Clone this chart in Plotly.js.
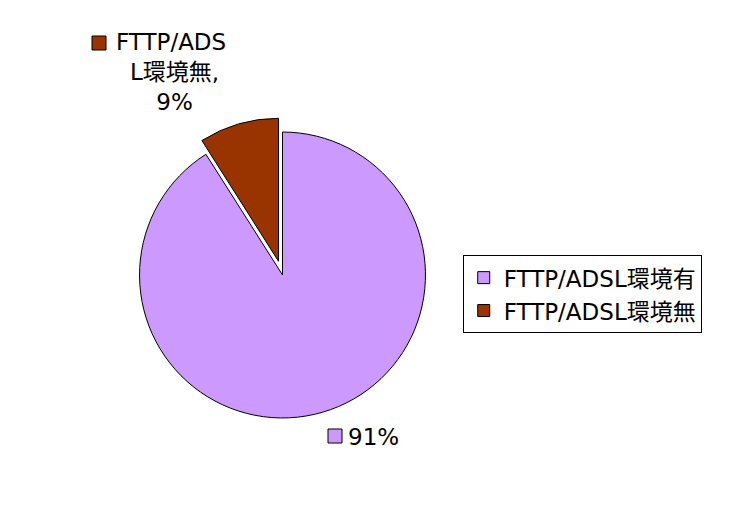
<!DOCTYPE html>
<html>
<head>
<meta charset="utf-8">
<script src="https://cdn.plot.ly/plotly-3.0.1.min.js"></script>
<style>html,body{margin:0;padding:0;background:#fff;}#chart{width:738px;height:524px;}</style>
</head>
<body>
<div id="chart"></div>
<script>
const labels = ["FTTP/ADSL環境有", "FTTP/ADSL環境無"];
const values = [91, 9];
const colors = ["#CC99FF", "#993300"];
const pulls = [0, 0.1];

const total = values.reduce((a, b) => a + b, 0);
const pct = values.map(v => Math.round(v / total * 100) + "%");
const FONT = "'DejaVu Sans', 'Noto Sans CJK JP', sans-serif";

const trace = {
  type: "pie",
  labels: labels,
  values: values,
  marker: {colors: colors, line: {color: "#000000", width: 1}},
  pull: pulls,
  sort: false,
  direction: "clockwise",
  rotation: 0,
  textinfo: "none",
  hoverinfo: "label+percent",
  domain: {x: [0.1697, 0.5959], y: [0.175, 0.7754]}
};

// label for the small slice, wrapped like the original
const smallLine1 = labels[1].slice(0, 8);
const smallRest = labels[1].slice(8) + ",<br>" + pct[1];

const layout = {
  width: 738, height: 524,
  margin: {l: 0, r: 0, t: 0, b: 0},
  paper_bgcolor: "#ffffff",
  font: {family: FONT, size: 23, color: "#000000"},
  showlegend: true,
  legend: {
    x: 0.627, y: 0.513, xanchor: "left", yanchor: "top",
    bordercolor: "#000000", borderwidth: 1, bgcolor: "#ffffff",
    font: {family: FONT, size: 23, color: "#000000"}
  },
  annotations: [
    {xref: "paper", yref: "paper", x: 114 / 738, y: 1 - 42 / 524, xanchor: "left", yanchor: "middle",
     text: smallLine1, showarrow: false, font: {family: FONT, size: 23, color: "#000000"}},
    {xref: "paper", yref: "paper", x: 174 / 738, y: 1 - 57 / 524, xanchor: "center", yanchor: "top",
     text: smallRest, showarrow: false, align: "center", font: {family: FONT, size: 23, color: "#000000"}},
    {xref: "paper", yref: "paper", x: 346 / 738, y: 1 - 437 / 524, xanchor: "left", yanchor: "middle",
     text: pct[0], showarrow: false, font: {family: FONT, size: 23, color: "#000000"}}
  ],
  shapes: [
    {type: "rect", xref: "paper", yref: "paper", x0: 92 / 738, x1: 106 / 738, y0: 1 - 50 / 524, y1: 1 - 36 / 524,
     fillcolor: colors[1], line: {color: "#000000", width: 1}},
    {type: "rect", xref: "paper", yref: "paper", x0: 328 / 738, x1: 342 / 738, y0: 1 - 443 / 524, y1: 1 - 429 / 524,
     fillcolor: colors[0], line: {color: "#000000", width: 1}}
  ]
};

Plotly.newPlot("chart", [trace], layout, {displayModeBar: false, staticPlot: true});
</script>
</body>
</html>
